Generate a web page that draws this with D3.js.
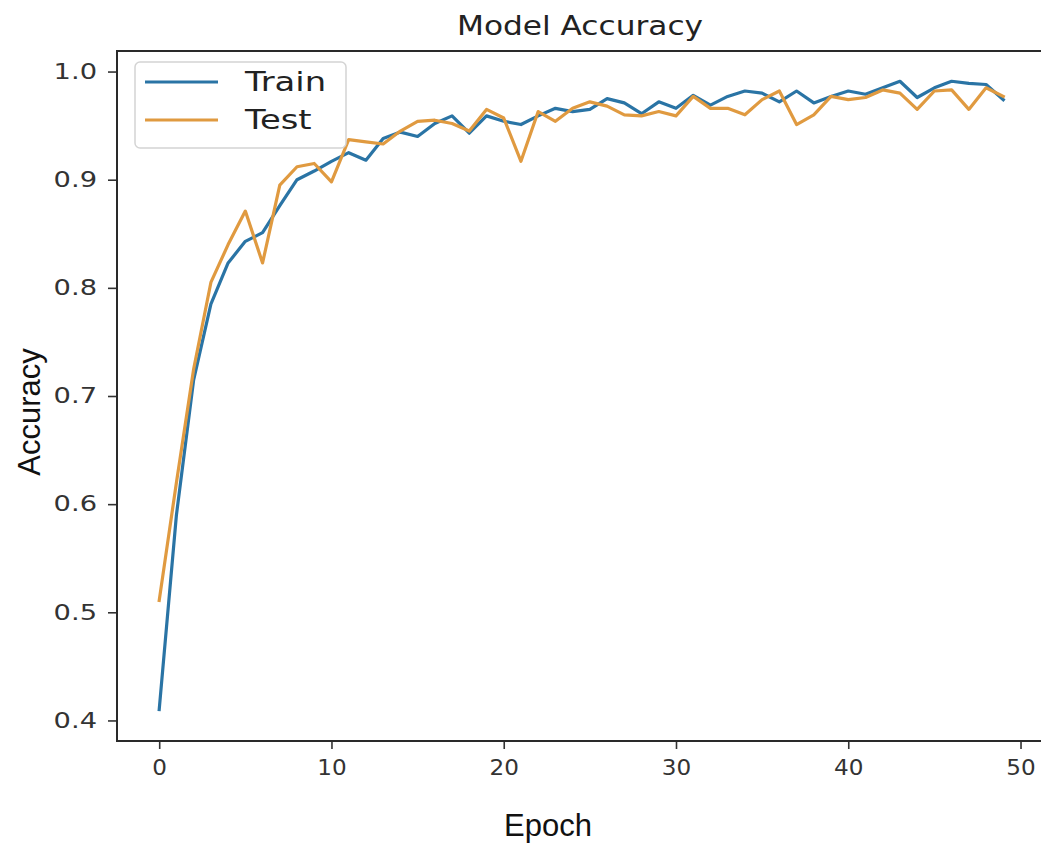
<!DOCTYPE html>
<html>
<head>
<meta charset="utf-8">
<script src="https://cdn.jsdelivr.net/npm/d3@7"></script>
<style>
  body { margin: 0; background: #fff; overflow: hidden; }
  svg { display: block; }
</style>
</head>
<body>
<div name="chart"></div>
<script>
// epochs 0..49, values
const epochs = d3.range(0, 50);
const trainAcc = [
  0.410, 0.590, 0.715, 0.785, 0.823, 0.843, 0.851, 0.876, 0.900, 0.908,
  0.917, 0.925, 0.918, 0.938, 0.944, 0.940, 0.952, 0.959, 0.943, 0.959,
  0.954, 0.951, 0.959, 0.966, 0.963, 0.965, 0.975, 0.971, 0.961, 0.972,
  0.966, 0.978, 0.969, 0.977, 0.982, 0.980, 0.972, 0.982, 0.971, 0.977,
  0.982, 0.979, 0.985, 0.991, 0.976, 0.985, 0.991, 0.989, 0.988, 0.974,
];
const testAcc = [
  0.511, 0.620, 0.725, 0.805, 0.840, 0.871, 0.823, 0.895, 0.912, 0.915,
  0.898, 0.937, 0.935, 0.933, 0.945, 0.954, 0.955, 0.952, 0.945, 0.965,
  0.957, 0.917, 0.963, 0.954, 0.966, 0.972, 0.968, 0.960, 0.959, 0.963,
  0.959, 0.977, 0.966, 0.966, 0.960, 0.974, 0.982, 0.951, 0.960, 0.977,
  0.974, 0.976, 0.983, 0.980, 0.965, 0.982, 0.983, 0.965, 0.985, 0.977,
];
const xTicks = [0, 10, 20, 30, 40, 50];
const yTicks = [0.4, 0.5, 0.6, 0.7, 0.8, 0.9, 1.0];
const seriesNames = ['Train', 'Test'];
const seriesColors = ['#2a74a5', '#e09a40'];

const svgWidth = 1041, svgHeight = 844;
const plot = { left: 117, right: 1045.5, top: 51, bottom: 741 };

const svg = d3.select('div[name=chart]').append('svg')
  .attr('width', svgWidth)
  .attr('height', svgHeight);

// matplotlib style 5% margins around the data
const x = d3.scaleLinear().domain([-2.45, 51.45]).range([plot.left, plot.right]);
const y = d3.scaleLinear().domain([0.381, 1.019]).range([plot.bottom, plot.top]);

const tickFont = '"DejaVu Sans", sans-serif';

// stretch text horizontally a bit, the source glyphs are wider
function widen(sel, k) {
  sel.each(function() {
    const w = this.getComputedTextLength();
    d3.select(this).attr('textLength', w * k).attr('lengthAdjust', 'spacingAndGlyphs');
  });
}

// x axis
const gx = svg.append('g')
  .attr('transform', `translate(0, ${plot.bottom})`)
  .call(d3.axisBottom(x).tickValues(xTicks).tickFormat(d3.format('d')).tickSize(8).tickSizeOuter(0).tickPadding(11));
gx.select('.domain').remove();
gx.selectAll('.tick line').attr('stroke', '#333').attr('stroke-width', 1.6);
gx.selectAll('.tick text')
  .attr('fill', '#333')
  .style('font-family', tickFont)
  .style('font-size', '21px');
widen(gx.selectAll('.tick text'), 1.1);

// y axis
const gy = svg.append('g')
  .attr('transform', `translate(${plot.left}, 0)`)
  .call(d3.axisLeft(y).tickValues(yTicks).tickFormat(d3.format('.1f')).tickSize(9).tickSizeOuter(0).tickPadding(11));
gy.select('.domain').remove();
gy.selectAll('.tick line').attr('stroke', '#333').attr('stroke-width', 1.6);
gy.selectAll('.tick text')
  .attr('fill', '#333')
  .style('font-family', tickFont)
  .style('font-size', '21px');
widen(gy.selectAll('.tick text'), 1.3);

// lines
const line = d3.line()
  .x((d, i) => x(epochs[i]))
  .y(d => y(d));

[trainAcc, testAcc].forEach((vals, k) => {
  svg.append('path')
    .datum(vals)
    .attr('fill', 'none')
    .attr('stroke', seriesColors[k])
    .attr('stroke-width', 3.2)
    .attr('stroke-linejoin', 'round')
    .attr('stroke-linecap', 'square')
    .attr('d', line);
});

// frame: left, top, bottom spines (right one falls outside the picture)
const spines = [
  [plot.left, plot.top, plot.left, plot.bottom],
  [plot.left, plot.top, plot.right, plot.top],
  [plot.left, plot.bottom, plot.right, plot.bottom],
];
svg.selectAll('line.spine')
  .data(spines)
  .enter()
  .append('line')
  .attr('class', 'spine')
  .attr('x1', d => d[0]).attr('y1', d => d[1])
  .attr('x2', d => d[2]).attr('y2', d => d[3])
  .attr('stroke', '#2a2a2a')
  .attr('stroke-width', 2)
  .attr('stroke-linecap', 'square');

// legend
const legend = svg.append('g').attr('transform', 'translate(135, 62)');
legend.append('rect')
  .attr('width', 211)
  .attr('height', 86)
  .attr('rx', 5)
  .attr('fill', '#fff')
  .attr('fill-opacity', 0.85)
  .attr('stroke', '#d4d4d4')
  .attr('stroke-width', 1.5);
const item = legend.selectAll('g.item')
  .data(seriesNames)
  .enter()
  .append('g')
  .attr('class', 'item')
  .attr('transform', (d, i) => `translate(0, ${20 + i * 38})`);
item.append('line')
  .attr('x1', 10).attr('x2', 83)
  .attr('stroke', (d, i) => seriesColors[i])
  .attr('stroke-width', 3.2);
item.append('text')
  .attr('x', 110)
  .attr('dy', '0.36em')
  .attr('fill', '#222')
  .style('font-family', tickFont)
  .style('font-size', '26px')
  .style('font-weight', 500)
  .text(d => d);
widen(item.selectAll('text'), 1.3);

// title and axis labels
const title = svg.append('text')
  .attr('x', 580)
  .attr('y', 35)
  .attr('text-anchor', 'middle')
  .attr('fill', '#222')
  .style('font-family', tickFont)
  .style('font-size', '26px')
  .text('Model Accuracy');
widen(title, 1.2);

svg.append('text')
  .attr('x', 548)
  .attr('y', 836)
  .attr('text-anchor', 'middle')
  .attr('fill', '#111')
  .style('font-family', '"Liberation Sans", Arial, sans-serif')
  .style('font-size', '31px')
  .text('Epoch');

svg.append('text')
  .attr('transform', 'translate(40, 412) rotate(-90)')
  .attr('text-anchor', 'middle')
  .attr('fill', '#111')
  .style('font-family', '"Liberation Sans", Arial, sans-serif')
  .style('font-size', '31px')
  .text('Accuracy');
</script>
</body>
</html>
